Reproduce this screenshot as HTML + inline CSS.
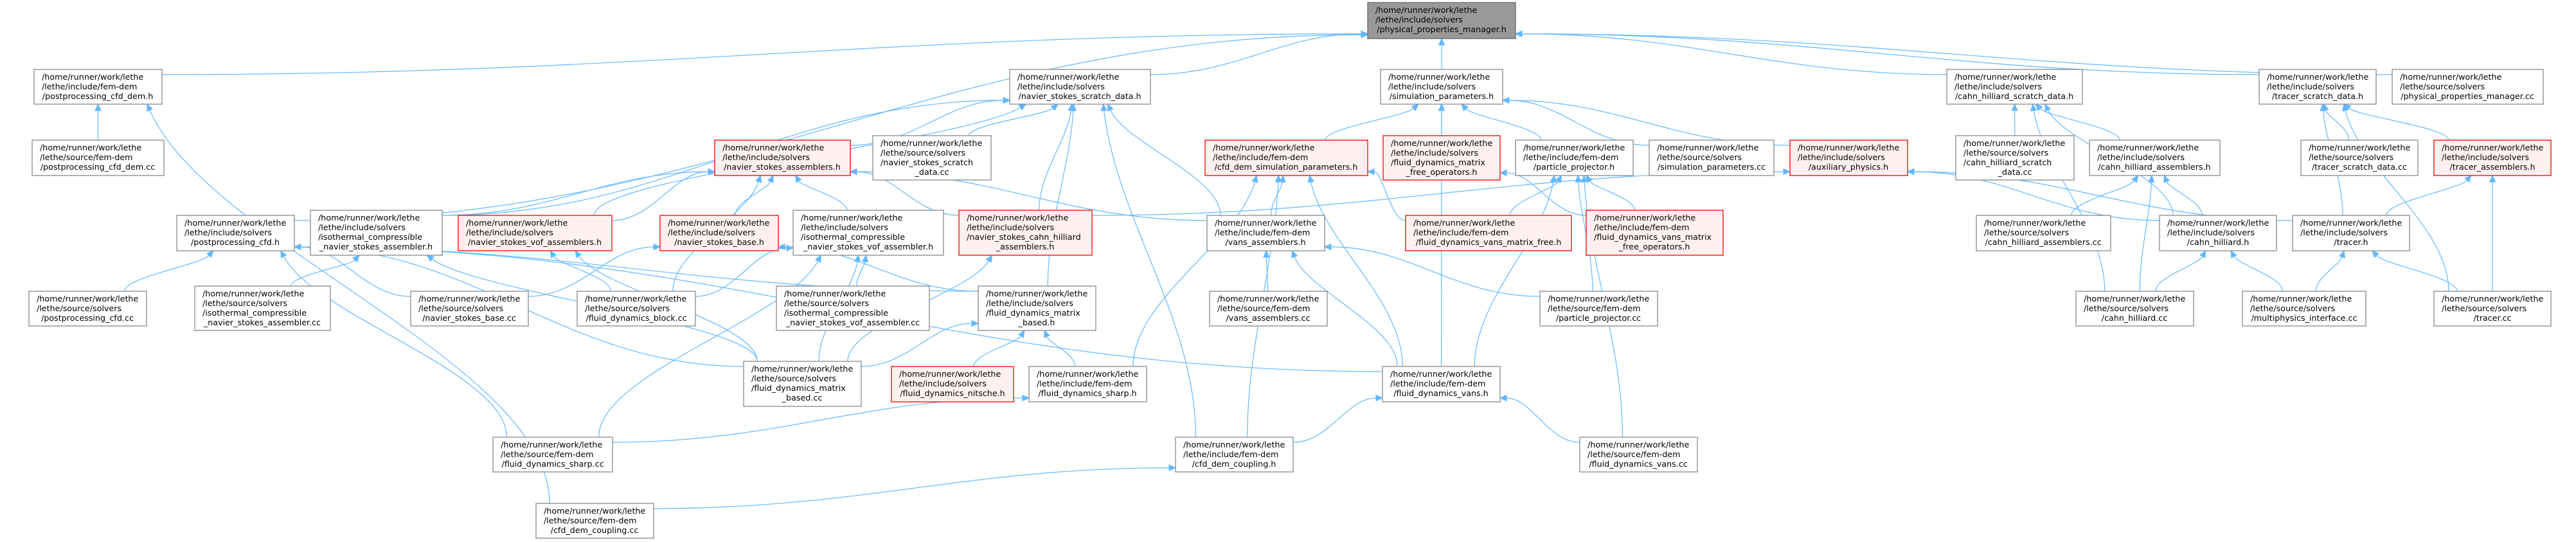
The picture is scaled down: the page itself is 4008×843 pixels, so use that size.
<!DOCTYPE html>
<html><head><meta charset="utf-8">
<style>
html,body{margin:0;padding:0;background:#fff;}
svg{display:block;}
text{font-family:"DejaVu Sans","Liberation Sans",sans-serif;font-size:12.7px;fill:#000;}
.n{fill:#fff;stroke:#888;stroke-width:1.3;}
.r{fill:#fff0f0;stroke:#ff0000;stroke-width:1.3;}
.g{fill:#999;stroke:#666;stroke-width:1.3;}
</style></head>
<body>
<svg id="s" width="4008" height="843" viewBox="0 0 4008 843" xmlns="http://www.w3.org/2000/svg">
<g id="edges" fill="none" stroke="#63b8ff" stroke-width="1.2"></g>
<g id="heads" fill="#63b8ff" stroke="#63b8ff"></g>
<g id="nodes">
<g id="PPM"><rect class="g" x="2128" y="4" width="230" height="56"/><text x="2140" y="20">/home/runner/work/lethe</text><text x="2140" y="35">/lethe/include/solvers</text><text x="2243" y="50" text-anchor="middle">/physical_properties_manager.h</text></g>

<g id="A"><rect class="n" x="53" y="108" width="199" height="54"/><text x="65" y="124">/home/runner/work/lethe</text><text x="65" y="139">/lethe/include/fem-dem</text><text x="152" y="154" text-anchor="middle">/postprocessing_cfd_dem.h</text></g>
<g id="B"><rect class="n" x="1571" y="108" width="219" height="54"/><text x="1583" y="124">/home/runner/work/lethe</text><text x="1583" y="139">/lethe/include/solvers</text><text x="1680" y="154" text-anchor="middle">/navier_stokes_scratch_data.h</text></g>
<g id="C"><rect class="n" x="2148" y="108" width="190" height="54"/><text x="2160" y="124">/home/runner/work/lethe</text><text x="2160" y="139">/lethe/include/solvers</text><text x="2243" y="154" text-anchor="middle">/simulation_parameters.h</text></g>
<g id="D"><rect class="n" x="3029" y="108" width="211" height="54"/><text x="3041" y="124">/home/runner/work/lethe</text><text x="3041" y="139">/lethe/include/solvers</text><text x="3134" y="154" text-anchor="middle">/cahn_hilliard_scratch_data.h</text></g>
<g id="E"><rect class="n" x="3515" y="108" width="182" height="54"/><text x="3527" y="124">/home/runner/work/lethe</text><text x="3527" y="139">/lethe/include/solvers</text><text x="3606" y="154" text-anchor="middle">/tracer_scratch_data.h</text></g>
<g id="F"><rect class="n" x="3722" y="108" width="235" height="54"/><text x="3734" y="124">/home/runner/work/lethe</text><text x="3734" y="139">/lethe/source/solvers</text><text x="3839" y="154" text-anchor="middle">/physical_properties_manager.cc</text></g>

<g id="PCDcc"><rect class="n" x="50" y="218" width="205" height="55"/><text x="62" y="234">/home/runner/work/lethe</text><text x="62" y="249">/lethe/source/fem-dem</text><text x="152" y="264" text-anchor="middle">/postprocessing_cfd_dem.cc</text></g>
<g id="NSA"><rect class="r" x="1112" y="218" width="211" height="55"/><text x="1124" y="234">/home/runner/work/lethe</text><text x="1124" y="249">/lethe/include/solvers</text><text x="1217" y="264" text-anchor="middle">/navier_stokes_assemblers.h</text></g>
<g id="NSScc"><rect class="n" x="1358" y="211" width="184" height="69"/><text x="1370" y="227">/home/runner/work/lethe</text><text x="1370" y="242">/lethe/source/solvers</text><text x="1370" y="257">/navier_stokes_scratch</text><text x="1450" y="272" text-anchor="middle">_data.cc</text></g>
<g id="CDSP"><rect class="r" x="1875" y="218" width="253" height="55"/><text x="1887" y="234">/home/runner/work/lethe</text><text x="1887" y="249">/lethe/include/fem-dem</text><text x="2001" y="264" text-anchor="middle">/cfd_dem_simulation_parameters.h</text></g>
<g id="FDMFO"><rect class="r" x="2152" y="211" width="182" height="69"/><text x="2164" y="227">/home/runner/work/lethe</text><text x="2164" y="242">/lethe/include/solvers</text><text x="2164" y="257">/fluid_dynamics_matrix</text><text x="2243" y="272" text-anchor="middle">_free_operators.h</text></g>
<g id="PPh"><rect class="n" x="2358" y="218" width="183" height="55"/><text x="2370" y="234">/home/runner/work/lethe</text><text x="2370" y="249">/lethe/include/fem-dem</text><text x="2449" y="264" text-anchor="middle">/particle_projector.h</text></g>
<g id="SPcc"><rect class="n" x="2566" y="218" width="194" height="55"/><text x="2578" y="234">/home/runner/work/lethe</text><text x="2578" y="249">/lethe/source/solvers</text><text x="2663" y="264" text-anchor="middle">/simulation_parameters.cc</text></g>
<g id="AUX"><rect class="r" x="2785" y="218" width="183" height="55"/><text x="2797" y="234">/home/runner/work/lethe</text><text x="2797" y="249">/lethe/include/solvers</text><text x="2876" y="264" text-anchor="middle">/auxiliary_physics.h</text></g>
<g id="CHScc"><rect class="n" x="3043" y="211" width="184" height="69"/><text x="3055" y="227">/home/runner/work/lethe</text><text x="3055" y="242">/lethe/source/solvers</text><text x="3055" y="257">/cahn_hilliard_scratch</text><text x="3135" y="272" text-anchor="middle">_data.cc</text></g>
<g id="CHA"><rect class="n" x="3251" y="218" width="203" height="55"/><text x="3263" y="234">/home/runner/work/lethe</text><text x="3263" y="249">/lethe/include/solvers</text><text x="3352" y="264" text-anchor="middle">/cahn_hilliard_assemblers.h</text></g>
<g id="TScc"><rect class="n" x="3580" y="218" width="182" height="55"/><text x="3592" y="234">/home/runner/work/lethe</text><text x="3592" y="249">/lethe/source/solvers</text><text x="3671" y="264" text-anchor="middle">/tracer_scratch_data.cc</text></g>
<g id="TA"><rect class="r" x="3787" y="218" width="182" height="55"/><text x="3799" y="234">/home/runner/work/lethe</text><text x="3799" y="249">/lethe/include/solvers</text><text x="3878" y="264" text-anchor="middle">/tracer_assemblers.h</text></g>

<g id="PC"><rect class="n" x="275" y="335" width="183" height="55"/><text x="287" y="351">/home/runner/work/lethe</text><text x="287" y="366">/lethe/include/solvers</text><text x="366" y="381" text-anchor="middle">/postprocessing_cfd.h</text></g>
<g id="ICA"><rect class="n" x="483" y="327" width="205" height="70"/><text x="495" y="343">/home/runner/work/lethe</text><text x="495" y="358">/lethe/include/solvers</text><text x="495" y="373">/isothermal_compressible</text><text x="585" y="388" text-anchor="middle">_navier_stokes_assembler.h</text></g>
<g id="VOFA"><rect class="r" x="713" y="335" width="239" height="55"/><text x="725" y="351">/home/runner/work/lethe</text><text x="725" y="366">/lethe/include/solvers</text><text x="832" y="381" text-anchor="middle">/navier_stokes_vof_assemblers.h</text></g>
<g id="NSB"><rect class="r" x="1027" y="335" width="184" height="55"/><text x="1039" y="351">/home/runner/work/lethe</text><text x="1039" y="366">/lethe/include/solvers</text><text x="1119" y="381" text-anchor="middle">/navier_stokes_base.h</text></g>
<g id="ICV"><rect class="n" x="1234" y="327" width="234" height="70"/><text x="1246" y="343">/home/runner/work/lethe</text><text x="1246" y="358">/lethe/include/solvers</text><text x="1246" y="373">/isothermal_compressible</text><text x="1351" y="388" text-anchor="middle">_navier_stokes_vof_assembler.h</text></g>
<g id="NSCH"><rect class="r" x="1492" y="327" width="207" height="70"/><text x="1504" y="343">/home/runner/work/lethe</text><text x="1504" y="358">/lethe/include/solvers</text><text x="1504" y="373">/navier_stokes_cahn_hilliard</text><text x="1595" y="388" text-anchor="middle">_assemblers.h</text></g>
<g id="VA"><rect class="n" x="1878" y="335" width="183" height="55"/><text x="1890" y="351">/home/runner/work/lethe</text><text x="1890" y="366">/lethe/include/fem-dem</text><text x="1969" y="381" text-anchor="middle">/vans_assemblers.h</text></g>
<g id="FVMF"><rect class="r" x="2187" y="335" width="258" height="55"/><text x="2199" y="351">/home/runner/work/lethe</text><text x="2199" y="366">/lethe/include/fem-dem</text><text x="2316" y="381" text-anchor="middle">/fluid_dynamics_vans_matrix_free.h</text></g>
<g id="FVMFO"><rect class="r" x="2468" y="327" width="213" height="70"/><text x="2480" y="343">/home/runner/work/lethe</text><text x="2480" y="358">/lethe/include/fem-dem</text><text x="2480" y="373">/fluid_dynamics_vans_matrix</text><text x="2574" y="388" text-anchor="middle">_free_operators.h</text></g>
<g id="CHAcc"><rect class="n" x="3075" y="335" width="209" height="55"/><text x="3087" y="351">/home/runner/work/lethe</text><text x="3087" y="366">/lethe/source/solvers</text><text x="3179" y="381" text-anchor="middle">/cahn_hilliard_assemblers.cc</text></g>
<g id="CH"><rect class="n" x="3360" y="335" width="182" height="55"/><text x="3372" y="351">/home/runner/work/lethe</text><text x="3372" y="366">/lethe/include/solvers</text><text x="3451" y="381" text-anchor="middle">/cahn_hilliard.h</text></g>
<g id="TR"><rect class="n" x="3567" y="335" width="182" height="55"/><text x="3579" y="351">/home/runner/work/lethe</text><text x="3579" y="366">/lethe/include/solvers</text><text x="3658" y="381" text-anchor="middle">/tracer.h</text></g>

<g id="PCcc"><rect class="n" x="45" y="453" width="183" height="54"/><text x="57" y="469">/home/runner/work/lethe</text><text x="57" y="484">/lethe/source/solvers</text><text x="136" y="499" text-anchor="middle">/postprocessing_cfd.cc</text></g>
<g id="ICAcc"><rect class="n" x="303" y="445" width="211" height="69"/><text x="315" y="461">/home/runner/work/lethe</text><text x="315" y="476">/lethe/source/solvers</text><text x="315" y="491">/isothermal_compressible</text><text x="408" y="506" text-anchor="middle">_navier_stokes_assembler.cc</text></g>
<g id="NSBcc"><rect class="n" x="639" y="453" width="183" height="54"/><text x="651" y="469">/home/runner/work/lethe</text><text x="651" y="484">/lethe/source/solvers</text><text x="730" y="499" text-anchor="middle">/navier_stokes_base.cc</text></g>
<g id="FDB"><rect class="n" x="898" y="453" width="184" height="54"/><text x="910" y="469">/home/runner/work/lethe</text><text x="910" y="484">/lethe/source/solvers</text><text x="990" y="499" text-anchor="middle">/fluid_dynamics_block.cc</text></g>
<g id="ICVcc"><rect class="n" x="1208" y="445" width="238" height="69"/><text x="1220" y="461">/home/runner/work/lethe</text><text x="1220" y="476">/lethe/source/solvers</text><text x="1220" y="491">/isothermal_compressible</text><text x="1327" y="506" text-anchor="middle">_navier_stokes_vof_assembler.cc</text></g>
<g id="FDMB"><rect class="n" x="1522" y="445" width="183" height="69"/><text x="1534" y="461">/home/runner/work/lethe</text><text x="1534" y="476">/lethe/include/solvers</text><text x="1534" y="491">/fluid_dynamics_matrix</text><text x="1613" y="506" text-anchor="middle">_based.h</text></g>
<g id="VAcc"><rect class="n" x="1882" y="453" width="183" height="54"/><text x="1894" y="469">/home/runner/work/lethe</text><text x="1894" y="484">/lethe/source/fem-dem</text><text x="1973" y="499" text-anchor="middle">/vans_assemblers.cc</text></g>
<g id="PPcc"><rect class="n" x="2396" y="453" width="183" height="54"/><text x="2408" y="469">/home/runner/work/lethe</text><text x="2408" y="484">/lethe/source/fem-dem</text><text x="2487" y="499" text-anchor="middle">/particle_projector.cc</text></g>
<g id="CHcc"><rect class="n" x="3230" y="453" width="183" height="54"/><text x="3242" y="469">/home/runner/work/lethe</text><text x="3242" y="484">/lethe/source/solvers</text><text x="3321" y="499" text-anchor="middle">/cahn_hilliard.cc</text></g>
<g id="MIcc"><rect class="n" x="3489" y="453" width="192" height="54"/><text x="3501" y="469">/home/runner/work/lethe</text><text x="3501" y="484">/lethe/source/solvers</text><text x="3585" y="499" text-anchor="middle">/multiphysics_interface.cc</text></g>
<g id="TRcc"><rect class="n" x="3787" y="453" width="182" height="54"/><text x="3799" y="469">/home/runner/work/lethe</text><text x="3799" y="484">/lethe/source/solvers</text><text x="3878" y="499" text-anchor="middle">/tracer.cc</text></g>

<g id="FDMBcc"><rect class="n" x="1157" y="562" width="183" height="70"/><text x="1169" y="578">/home/runner/work/lethe</text><text x="1169" y="593">/lethe/source/solvers</text><text x="1169" y="608">/fluid_dynamics_matrix</text><text x="1248" y="623" text-anchor="middle">_based.cc</text></g>
<g id="FDN"><rect class="r" x="1387" y="570" width="190" height="55"/><text x="1399" y="586">/home/runner/work/lethe</text><text x="1399" y="601">/lethe/include/solvers</text><text x="1482" y="616" text-anchor="middle">/fluid_dynamics_nitsche.h</text></g>
<g id="FDS"><rect class="n" x="1601" y="570" width="183" height="55"/><text x="1613" y="586">/home/runner/work/lethe</text><text x="1613" y="601">/lethe/include/fem-dem</text><text x="1692" y="616" text-anchor="middle">/fluid_dynamics_sharp.h</text></g>
<g id="FDV"><rect class="n" x="2151" y="570" width="183" height="55"/><text x="2163" y="586">/home/runner/work/lethe</text><text x="2163" y="601">/lethe/include/fem-dem</text><text x="2242" y="616" text-anchor="middle">/fluid_dynamics_vans.h</text></g>

<g id="FDScc"><rect class="n" x="767" y="680" width="186" height="54"/><text x="779" y="696">/home/runner/work/lethe</text><text x="779" y="711">/lethe/source/fem-dem</text><text x="860" y="726" text-anchor="middle">/fluid_dynamics_sharp.cc</text></g>
<g id="CDC"><rect class="n" x="1829" y="680" width="183" height="54"/><text x="1841" y="696">/home/runner/work/lethe</text><text x="1841" y="711">/lethe/include/fem-dem</text><text x="1920" y="726" text-anchor="middle">/cfd_dem_coupling.h</text></g>
<g id="FDVcc"><rect class="n" x="2458" y="680" width="183" height="54"/><text x="2470" y="696">/home/runner/work/lethe</text><text x="2470" y="711">/lethe/source/fem-dem</text><text x="2549" y="726" text-anchor="middle">/fluid_dynamics_vans.cc</text></g>

<g id="CDCcc"><rect class="n" x="834" y="783" width="183" height="54"/><text x="846" y="799">/home/runner/work/lethe</text><text x="846" y="814">/lethe/source/fem-dem</text><text x="925" y="829" text-anchor="middle">/cfd_dem_coupling.cc</text></g>
</g>
</svg>
<script>
(function(){
var E=[
["A","PPM"],["B","PPM"],["C","PPM"],["D","PPM"],["E","PPM"],["F","PPM"],["PC","PPM"],
["PCDcc","A"],["CDCcc","A"],["PCcc","PC"],["ICAcc","ICA"],["FDScc","PC"],["NSBcc","PC"],
["FDMBcc","PC"],["FDMB","PC"],["FDV","PC"],["ICA","B"],["FDMBcc","ICA"],
["VOFA","NSA"],["VOFA","B"],["NSB","NSA"],["ICV","NSA"],["ICA","NSA"],["NSBcc","NSB"],
["FDB","VOFA"],["FDB","NSA"],["FDB","ICV"],["ICVcc","ICV"],["FDMBcc","VOFA"],
["FDMBcc","ICV"],["FDMBcc","NSCH"],["FDMBcc","FDMB"],["FDScc","ICV"],["FDScc","FDS"],
["NSCH","B"],["NSCH","NSA"],["NSA","B"],["NSScc","B"],["FDMB","B"],["FDMB","NSB"],
["FDN","FDMB"],["FDS","FDMB"],["FDS","CDSP"],["CDC","B"],["CDC","CDSP"],["CDC","FDV"],
["CDCcc","CDC"],["VA","B"],["VA","CDSP"],["VA","NSA"],["VAcc","VA"],["FDV","VA"],
["FDV","CDSP"],["FDV","C"],["PPcc","VA"],["PPcc","PPh"],["FVMF","PPh"],["FVMF","CDSP"],
["FVMFO","PPh"],["FVMFO","FDMFO"],["CDSP","C"],["FDMFO","C"],["PPh","C"],["SPcc","C"],
["AUX","C"],["FDVcc","FDV"],["FDVcc","PPh"],["FDV","PPh"],["CHScc","D"],["CHA","D"],
["CH","D"],["CH","CHA"],["CH","AUX"],["CHcc","D"],["CHcc","CH"],["CHcc","CHA"],
["CHAcc","CHA"],["TR","E"],["TR","TA"],["TR","AUX"],["TScc","E"],["TA","E"],
["TRcc","E"],["TRcc","TR"],["TRcc","TA"],["MIcc","CH"],["MIcc","TR"],["NSCH","AUX"]
];
function box(id){var r=document.querySelector('#'+id+' rect');var x=+r.getAttribute('x'),y=+r.getAttribute('y'),w=+r.getAttribute('width'),h=+r.getAttribute('height');return {x:x,y:y,w:w,h:h,cx:x+w/2,cy:y+h/2};}
var ns="http://www.w3.org/2000/svg",eg=document.getElementById('edges'),hg=document.getElementById('heads');
function cl(v,a){return Math.max(-a,Math.min(a,v));}
E.forEach(function(e){
 var c=box(e[0]),p=box(e[1]),sx,sy,ex,ey,c1x,c1y,c2x,c2y;
 var dx=p.cx-c.cx, dy=c.y-(p.y+p.h);
 if(dy<10 || Math.abs(dx)>5*dy){
  // side attachment
  if(dx>0){sx=c.x+c.w;ex=p.x;}else{sx=c.x;ex=p.x+p.w;}
  sy=c.y+Math.min(c.h-8,Math.max(8,c.h*0.3));
  ey=p.cy+cl((c.cy-p.cy)*0.2,p.h/2-6);
  if(dy>=10){sy=c.y+8;}
  var m=(ex-sx)*0.4;c1x=sx+m;c1y=sy;c2x=ex-m;c2y=ey;
 } else {
  sx=c.cx+cl(dx*0.25,c.w/2.6);sy=c.y;
  ex=p.cx+cl(-dx*0.15,p.w/2.6);ey=p.y+p.h;
  c1x=sx;c1y=sy-dy*0.35;c2x=ex+(sx-ex)*0.15;c2y=ey+dy*0.35;
 }
 // arrow
 var ax=ex-c2x, ay=ey-c2y, L=Math.sqrt(ax*ax+ay*ay)||1; ax/=L; ay/=L;
 var bx=ex-ax*10, by=ey-ay*10;
 var path=document.createElementNS(ns,'path');
 path.setAttribute('d','M'+sx+','+sy+' C'+c1x+','+c1y+' '+c2x+','+c2y+' '+bx+','+by);
 eg.appendChild(path);
 var poly=document.createElementNS(ns,'polygon');
 poly.setAttribute('points',ex+','+ey+' '+(bx-ay*4.5)+','+(by+ax*4.5)+' '+(bx+ay*4.5)+','+(by-ax*4.5));
 hg.appendChild(poly);
});
})();
</script>
</body></html>
